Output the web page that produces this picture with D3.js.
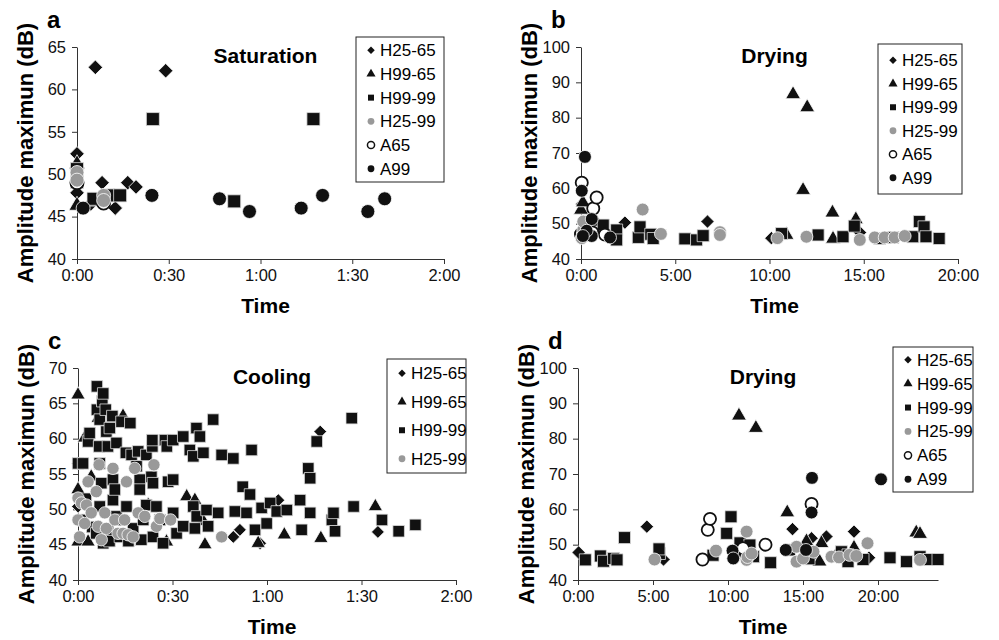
<!DOCTYPE html>
<html>
<head>
<meta charset="utf-8">
<script src="https://cdn.jsdelivr.net/npm/d3@7"></script>
<style>
  body { margin: 0; background: #fff; }
  svg { font-family: "Liberation Sans", Arial, sans-serif; }
  .axis path, .axis line { stroke: #333; }
  .axis text { font-size: 16.5px; fill: #111; }
  .title { font-weight: bold; font-size: 21px; }
  .ytitle { font-weight: bold; font-size: 22px; }
  .letter { font-weight: bold; font-size: 24px; }
  .legend text { font-size: 17px; }
</style>
</head>
<body>
<div id="chart"></div>
<script>
// series in the order Excel lists them in the legends
const seriesNames = ["H25-65", "H99-65", "H99-99", "H25-99", "A65", "A99"];
const coolingNames = ["H25-65", "H99-65", "H99-99", "H25-99"];

const minuteTicks = [0, 30, 60, 90, 120];
const minuteTickLabels = ["0:00", "0:30", "1:00", "1:30", "2:00"];
const hourTicks = [0, 5, 10, 15, 20];
const hourTickLabels = ["0:00", "5:00", "10:00", "15:00", "20:00"];

// a - saturation, [minutes, dB]
const satH2565 = [[0, 52.4], [0, 50.5], [0, 47.8], [4.5, 46.5], [6, 62.6], [8.2, 49.0], [12.5, 46.0], [16.6, 49.0], [19.3, 48.5], [29, 62.2]];
const satH9965 = [[0, 46.3], [0, 51.2], [4.8, 46.8]];
const satH9999 = [[0, 50.6], [0, 49.1], [5.4, 47.1], [10.3, 47.5], [14.1, 47.5], [24.8, 56.5], [51.4, 46.8], [77.3, 56.5]];
const satH2599 = [[0, 50.2], [0, 49.3], [8.7, 47.5], [8.7, 46.9]];
const satA65 = [[0, 49.0], [8.7, 46.6]];
const satA99 = [[2, 46.0], [24.5, 47.5], [46.6, 47.1], [56.4, 45.6], [73.3, 46.0], [80.3, 47.5], [95.1, 45.6], [100.6, 47.1]];

// b - drying, [hours, dB]
const dryBH2565 = [[0.05, 55.5], [0.3, 48], [2.33, 50.3], [6.71, 50.6], [10.1, 45.9], [14.8, 47.5]];
const dryBH9965 = [[0, 53.9], [0.1, 56], [0.8, 50.5], [10.9, 46.8], [11.25, 86.6], [11.78, 59.5], [12.0, 82.9], [13.34, 53.1], [13.37, 45.7], [14.58, 51.2]];
const dryBH9999 = [[0.3, 47], [1.18, 49.6], [1.89, 48.2], [1.89, 45.4], [3.04, 46.1], [3.13, 49.1], [3.7, 47], [3.83, 45.8], [5.51, 45.7], [6.13, 45.4], [6.48, 46.6], [10.64, 47.2], [12.58, 46.8], [13.9, 46.3], [14.5, 49.3], [15.85, 45.8], [16.55, 46.1], [17.6, 46.3], [17.95, 50.6], [18.2, 49.1], [18.3, 46.3], [19.0, 45.8]];
const dryBH2599 = [[0.04, 45.9], [0.12, 48.2], [0.12, 50.6], [0.3, 47.5], [3.27, 54.0], [4.24, 47.1], [7.37, 47.6], [7.37, 46.8], [10.42, 45.9], [11.96, 46.3], [14.79, 45.4], [15.58, 46.1], [16.11, 46.1], [16.64, 46.1], [17.17, 46.5]];
const dryBA65 = [[0.04, 61.6], [0.65, 54.3], [0.83, 57.4], [0, 47], [0.39, 46.9], [0.6, 47.5], [1.27, 46.9]];
const dryBA99 = [[0.04, 59.3], [0.21, 68.9], [0.57, 51.3], [0.57, 46.5], [0.3, 48], [1.54, 46.1], [0.1, 46.5]];

// c - cooling, [minutes, dB]
const coolH2565 = [[0, 56.5], [0, 50.4], [49.3, 46.1], [51.4, 47.1], [57.8, 45.2], [63.6, 51.3], [76.9, 61.0], [95.2, 46.8]];
const coolH9965 = [[0, 66.2], [0, 52.8], [0, 45.4], [2.1, 60.1], [3.2, 45.4], [4.2, 54.6], [6.4, 62.9], [10.1, 46.1], [14.3, 63.2], [22.3, 50.6], [28.1, 45.4], [34.5, 51.8], [37.1, 51.3], [39.8, 48.3], [40.3, 45.0], [57.2, 45.2], [65.5, 46.4], [77.1, 45.9], [94.4, 50.4]];
const coolH9999 = [
  [0, 56.5], [1.6, 56.5], [1.6, 48.5], [2.5, 51.5], [3.2, 59.6], [3.7, 60.8], [4.5, 47.5], [5.8, 46.6], [6.0, 67.4], [6.0, 64.1],
  [6.7, 58.9], [6.9, 62.7], [6.9, 56.5], [6.9, 50.4], [7.4, 53.7], [7.7, 65.3], [8.0, 66.4], [8.0, 45.2], [8.8, 64.1], [9.0, 61.0],
  [9.5, 58.9], [9.5, 47], [10, 45.5], [10.1, 61.5], [10.9, 63.2], [11.1, 54.2], [11.1, 51.3], [11.7, 52.8], [12.2, 59.4], [12.2, 49.0],
  [13.3, 46.1], [13.8, 62.4], [14, 48.5], [15.2, 58.0], [15.4, 50.4], [16, 45.5], [16.6, 62.2], [17.0, 57.7], [17.5, 47.3], [18.6, 56.1],
  [19.1, 58.2], [19.6, 54.2], [19.6, 52.8], [20.1, 45.7], [20.7, 48.5], [21.7, 57.7], [21.7, 50.6], [23.3, 54.6], [23.6, 58.9], [23.6, 59.8],
  [23.8, 53.7], [23.8, 46.1], [24.9, 50.4], [26.0, 48.5], [27.0, 45.2], [27.6, 59.8], [28.2, 58.9], [28.6, 53.9], [30.2, 59.8], [30.2, 54.2],
  [30.2, 49.5], [31.3, 46.6], [33.4, 60.3], [33.4, 47.6], [35.5, 58.4], [36.6, 57.5], [36.6, 50.4], [37.1, 47.3], [37.6, 61.5], [37.7, 49.0],
  [38.7, 60.3], [39.8, 58.0], [40.8, 49.9], [41.3, 47.6], [42.9, 62.7], [44.5, 49.5], [45.6, 57.7], [49.3, 57.2], [49.8, 49.7], [52.3, 53.2],
  [53.5, 49.5], [54.6, 52.1], [55.1, 58.4], [56.2, 47.1], [58.3, 50.2], [59.9, 48.0], [61.0, 50.9], [63.1, 49.7], [66.3, 49.9], [70.5, 51.3],
  [71.0, 47.1], [73.1, 55.8], [73.7, 54.4], [73.7, 49.5], [75.8, 59.6], [80.6, 48.5], [81.1, 49.5], [81.6, 46.9], [86.9, 62.9], [87.5, 50.4],
  [96.5, 48.5], [101.8, 46.9], [107.1, 47.8]
];
const coolH2599 = [[0, 51.6], [0, 48.5], [0.5, 46.1], [1.1, 50.9], [2.1, 48.0], [2.7, 50.6], [3.2, 53.9], [4.2, 49.5], [5.8, 52.5], [6.4, 47.6], [6.7, 56.3], [7.4, 45.7], [8.5, 49.5], [9.0, 47.3], [11.1, 55.8], [11.7, 48.5], [12.7, 46.6], [14.3, 46.6], [14.8, 48.5], [15.4, 53.9], [15.9, 46.4], [17.5, 46.1], [18.0, 55.8], [19.1, 49.5], [21.2, 49.0], [24.1, 56.3], [24.9, 47.6], [26.0, 48.7], [29.4, 48.5], [45.6, 46.1]];

// d - drying, [hours, dB]
const dryDH2565 = [[0.04, 47.8], [4.59, 55.1], [5.7, 45.8], [11.0, 47], [14.3, 54.4], [15.2, 46.5], [15.57, 51.8], [16.56, 52.3], [17.3, 47.5], [18.4, 53.7], [19.4, 46.3]];
const dryDH9965 = [[10.73, 86.5], [11.86, 83.0], [13.95, 59.1], [15.23, 50.9], [15.8, 47], [16.1, 45.2], [16.23, 50.4], [18.4, 49.1], [22.55, 53.4], [22.8, 53.0]];
const dryDH9999 = [[0.49, 45.7], [1.49, 46.8], [1.7, 45.3], [2.37, 46.1], [2.6, 45.7], [3.1, 52.0], [5.43, 47.5], [5.4, 48.8], [9.0, 47], [9.91, 53.2], [10.2, 57.9], [10.8, 50.5], [11.35, 47.5], [11.46, 49.9], [11.7, 46.6], [12.84, 44.9], [14.1, 48.5], [15.4, 46], [17.56, 48.0], [18.0, 47.1], [18.0, 45.2], [19.0, 45.8], [20.8, 46.3], [21.9, 45.2], [22.8, 46.6], [23.4, 45.8], [24.0, 45.8]];
const dryDH2599 = [[5.1, 45.8], [9.2, 48.3], [11.24, 53.7], [11.24, 45.7], [11.3, 46.5], [11.57, 47.5], [14.57, 49.4], [14.57, 45.2], [15.0, 46.1], [15.7, 48.0], [16.9, 46.6], [17.4, 46.4], [18.1, 47.1], [18.55, 46.8], [19.3, 50.4], [22.8, 45.7]];
const dryDA65 = [[8.3, 45.8], [8.65, 54.2], [8.8, 57.3], [11.0, 49], [12.5, 50.0], [15.57, 61.5]];
const dryDA99 = [[10.3, 48.3], [10.35, 46.1], [13.85, 48.5], [15.2, 48.5], [15.57, 59.1], [15.6, 68.9], [20.2, 68.5]];

const markerStyle = {
  "H25-65": { type: d3.symbolDiamond2, fill: "#111", stroke: "#fff", k: 0.85 },
  "H99-65": { type: d3.symbolTriangle, fill: "#111", stroke: "#fff", k: 0.78 },
  "H99-99": { type: d3.symbolSquare, fill: "#111", stroke: "#ddd", k: 1 },
  "H25-99": { type: d3.symbolCircle, fill: "#999", stroke: "#fff", k: 0.85 },
  "A65": { type: d3.symbolCircle, fill: "#fff", stroke: "#111", k: 0.8 },
  "A99": { type: d3.symbolCircle, fill: "#111", stroke: "#fff", k: 0.85 }
};
// A65 sits under the grey circles in the original
const drawOrder = ["H25-65", "H99-65", "H99-99", "A65", "H25-99", "A99"];

const panels = [
  { letter: "a", title: "Saturation", x: [77, 444], y: [259, 47], xDomain: [0, 120], yDomain: [40, 65], yStep: 5,
    xTicks: minuteTicks, xLabels: minuteTickLabels, size: 13,
    series: { "H25-65": satH2565, "H99-65": satH9965, "H99-99": satH9999, "H25-99": satH2599, "A65": satA65, "A99": satA99 },
    names: seriesNames, legend: { x: 356, y: 37, w: 88, h: 145, step: 23.7 } },
  { letter: "b", title: "Drying", x: [581, 958], y: [259, 47], xDomain: [0, 20], yDomain: [40, 100], yStep: 10,
    xTicks: hourTicks, xLabels: hourTickLabels, size: 12,
    series: { "H25-65": dryBH2565, "H99-65": dryBH9965, "H99-99": dryBH9999, "H25-99": dryBH2599, "A65": dryBA65, "A99": dryBA99 },
    names: seriesNames, legend: { x: 878, y: 44, w: 84, h: 150, step: 23.5 } },
  { letter: "c", title: "Cooling", x: [78, 456], y: [580, 368], xDomain: [0, 120], yDomain: [40, 70], yStep: 5,
    xTicks: minuteTicks, xLabels: minuteTickLabels, size: 11.5,
    series: { "H25-65": coolH2565, "H99-65": coolH9965, "H99-99": coolH9999, "H25-99": coolH2599 },
    names: coolingNames, legend: { x: 387, y: 359, w: 79, h: 114, step: 28.5 } },
  { letter: "d", title: "Drying", x: [578, 938], y: [580, 368], xDomain: [0, 24], yDomain: [40, 100], yStep: 10,
    xTicks: hourTicks, xLabels: hourTickLabels, size: 12,
    series: { "H25-65": dryDH2565, "H99-65": dryDH9965, "H99-99": dryDH9999, "H25-99": dryDH2599, "A65": dryDA65, "A99": dryDA99 },
    names: seriesNames, legend: { x: 893, y: 347, w: 80, h: 145, step: 23.9 } }
];

const svg = d3.select("#chart").append("svg").attr("width", 999).attr("height", 640);

const drawPanel = (p) => {
  const xScale = d3.scaleLinear().domain(p.xDomain).range(p.x);
  const yScale = d3.scaleLinear().domain(p.yDomain).range(p.y);
  const g = svg.append("g");

  g.append("g")
    .attr("class", "axis")
    .attr("transform", `translate(0,${p.y[0]})`)
    .call(d3.axisBottom(xScale).tickValues(p.xTicks).tickFormat((d, i) => p.xLabels[i])
      .tickSize(5).tickSizeOuter(0).tickPadding(5));
  g.append("g")
    .attr("class", "axis")
    .attr("transform", `translate(${p.x[0]},0)`)
    .call(d3.axisLeft(yScale).tickValues(d3.range(p.yDomain[0], p.yDomain[1] + 1, p.yStep))
      .tickSize(5).tickSizeOuter(0).tickPadding(6));

  const cx = (p.x[0] + p.x[1]) / 2;
  const cy = (p.y[0] + p.y[1]) / 2;
  g.append("text").attr("class", "title").attr("x", cx + 5).attr("y", p.y[1] + 16)
    .attr("text-anchor", "middle").text(p.title);
  g.append("text").attr("class", "title").attr("x", cx + 5).attr("y", p.y[0] + 54)
    .attr("text-anchor", "middle").text("Time");
  g.append("text").attr("class", "ytitle")
    .attr("transform", `translate(${p.x[0] - 44},${cy}) rotate(-90)`)
    .attr("text-anchor", "middle").text("Amplitude maximun (dB)");
  g.append("text").attr("class", "letter").attr("x", p.x[0] - 30).attr("y", p.y[1] - 19).text(p.letter);

  drawOrder.filter((n) => p.series[n]).forEach((name) => {
    const st = markerStyle[name];
    const r = p.size * st.k;
    const sym = d3.symbol().type(st.type).size(st.type === d3.symbolSquare ? p.size * p.size
      : st.type === d3.symbolCircle ? Math.PI * r * r / 4 * 1.6 : r * r * 1.1);
    g.append("g").selectAll("path")
      .data(p.series[name])
      .enter()
      .append("path")
      .attr("d", sym)
      .attr("transform", (d) => `translate(${xScale(d[0])},${yScale(d[1])})`)
      .attr("fill", st.fill)
      .attr("stroke", st.stroke)
      .attr("stroke-width", name === "A65" ? 1.8 : 0.8);
  });

  const lg = g.append("g").attr("class", "legend");
  lg.append("rect").attr("x", p.legend.x).attr("y", p.legend.y).attr("width", p.legend.w).attr("height", p.legend.h)
    .attr("fill", "#fff").attr("stroke", "#222");
  const first = p.legend.y + (p.legend.h - p.legend.step * (p.names.length - 1)) / 2;
  p.names.forEach((name, i) => {
    const st = markerStyle[name];
    const y = first + i * p.legend.step;
    lg.append("path")
      .attr("d", d3.symbol().type(st.type).size(name === "A65" ? 40 : 36)())
      .attr("transform", `translate(${p.legend.x + 15},${y})`)
      .attr("fill", st.fill)
      .attr("stroke", name === "A65" ? "#111" : "none")
      .attr("stroke-width", 1.5);
    lg.append("text").attr("x", p.legend.x + 24).attr("y", y + 6).text(name);
  });
};

panels.forEach(drawPanel);
</script>
</body>
</html>
